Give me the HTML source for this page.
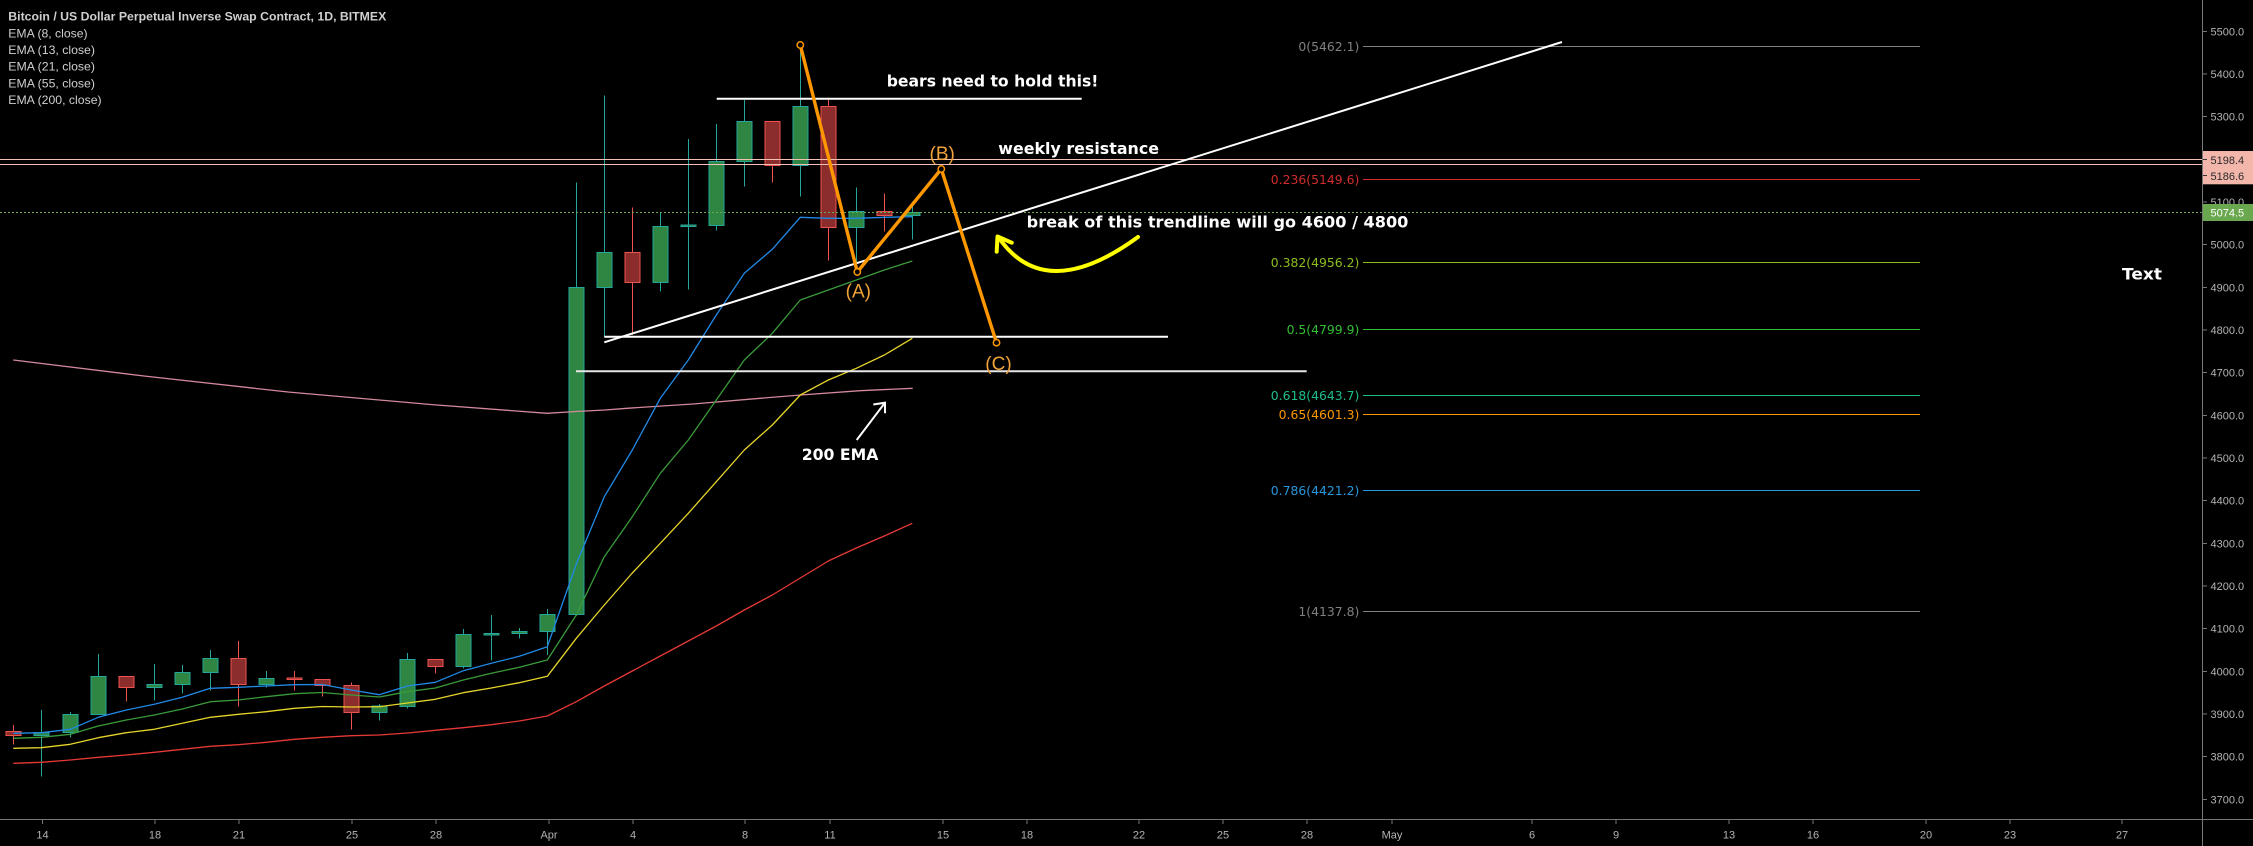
<!DOCTYPE html>
<html>
<head>
<meta charset="utf-8">
<style>
html,body{margin:0;padding:0;background:#000;}
svg{display:block;}
.ax{font-family:"Liberation Sans",sans-serif;font-size:11px;fill:#b4b4b4;}
.fib{font-family:"DejaVu Sans",sans-serif;font-size:12.4px;}
.ann{font-family:"DejaVu Sans",sans-serif;font-weight:bold;font-size:15.8px;fill:#fff;}
.lbl{font-family:"Liberation Sans",sans-serif;font-size:19px;fill:#f2a33a;}
.leg{font-family:"Liberation Sans",sans-serif;font-size:11.6px;fill:#cfcfcf;}
.gw{stroke:#26a69a;stroke-width:1;}
.rw{stroke:#ef5350;stroke-width:1;}
.gb{fill:#2f8542;stroke:#26a69a;stroke-width:1;}
.rb{fill:#8b2d2d;stroke:#ef5350;stroke-width:1;}
</style>
</head>
<body>
<svg width="2253" height="846" viewBox="0 0 2253 846" xmlns="http://www.w3.org/2000/svg">
<rect x="0" y="0" width="2253" height="846" fill="#000"/>

<!-- legend -->
<text class="leg" x="8.3" y="20.7" font-weight="bold" fill="#d8d8d8" textLength="378" lengthAdjust="spacingAndGlyphs">Bitcoin / US Dollar Perpetual Inverse Swap Contract, 1D, BITMEX</text>
<text class="leg" x="8.3" y="37.3" textLength="79.3" lengthAdjust="spacingAndGlyphs">EMA (8, close)</text>
<text class="leg" x="8.3" y="54" textLength="86.7" lengthAdjust="spacingAndGlyphs">EMA (13, close)</text>
<text class="leg" x="8.3" y="70.7" textLength="86.7" lengthAdjust="spacingAndGlyphs">EMA (21, close)</text>
<text class="leg" x="8.3" y="87.3" textLength="86.7" lengthAdjust="spacingAndGlyphs">EMA (55, close)</text>
<text class="leg" x="8.3" y="104" textLength="93.3" lengthAdjust="spacingAndGlyphs">EMA (200, close)</text>

<!-- fib levels -->
<g stroke-width="1">
<line x1="1363" y1="46.5" x2="1920" y2="46.5" stroke="#808080"/>
<line x1="1363" y1="179.5" x2="1920" y2="179.5" stroke="#d22c2c"/>
<line x1="1363" y1="262.5" x2="1920" y2="262.5" stroke="#8cbe1e"/>
<line x1="1363" y1="329.5" x2="1920" y2="329.5" stroke="#34be34"/>
<line x1="1363" y1="395.5" x2="1920" y2="395.5" stroke="#1ebe8c"/>
<line x1="1363" y1="414.5" x2="1920" y2="414.5" stroke="#ff9800"/>
<line x1="1363" y1="490.5" x2="1920" y2="490.5" stroke="#2896dc"/>
<line x1="1363" y1="611.5" x2="1920" y2="611.5" stroke="#808080"/>
</g>
<g class="fib" text-anchor="end">
<text x="1359.3" y="51" fill="#808080">0(5462.1)</text>
<text x="1359.3" y="184" fill="#d22c2c">0.236(5149.6)</text>
<text x="1359.3" y="267" fill="#8cbe1e">0.382(4956.2)</text>
<text x="1359.3" y="334" fill="#34be34">0.5(4799.9)</text>
<text x="1359.3" y="400" fill="#1ebe8c">0.618(4643.7)</text>
<text x="1359.3" y="419" fill="#ff9800">0.65(4601.3)</text>
<text x="1359.3" y="495" fill="#2896dc">0.786(4421.2)</text>
<text x="1359.3" y="616" fill="#808080">1(4137.8)</text>
</g>

<!-- candles -->
<g shape-rendering="crispEdges">
<line class="rw" x1="13.5" y1="725" x2="13.5" y2="744.7"/><rect class="rb" x="6" y="731.3" width="15" height="4"/>
<line class="gw" x1="41.5" y1="710" x2="41.5" y2="776.7"/><rect class="gb" x="34" y="732.3" width="15" height="3.4"/>
<line class="gw" x1="70.5" y1="712" x2="70.5" y2="737.7"/><rect class="gb" x="63" y="714.3" width="15" height="18"/>
<line class="gw" x1="98.5" y1="654" x2="98.5" y2="714.3"/><rect class="gb" x="91" y="676.3" width="15" height="38"/>
<line class="rw" x1="126.5" y1="676.3" x2="126.5" y2="701.7"/><rect class="rb" x="119" y="676.3" width="15" height="11"/>
<line class="gw" x1="154.5" y1="664" x2="154.5" y2="700.7"/><rect class="gb" x="147" y="684.3" width="15" height="3"/>
<line class="gw" x1="182.5" y1="665" x2="182.5" y2="693.7"/><rect class="gb" x="175" y="672.3" width="15" height="12"/>
<line class="gw" x1="210.5" y1="650" x2="210.5" y2="690.7"/><rect class="gb" x="203" y="658.3" width="15" height="14"/>
<line class="rw" x1="238.5" y1="641" x2="238.5" y2="706.7"/><rect class="rb" x="231" y="658.3" width="15" height="26"/>
<line class="gw" x1="266.5" y1="671" x2="266.5" y2="687.7"/><rect class="gb" x="259" y="678.3" width="15" height="6"/>
<line class="rw" x1="294.5" y1="671" x2="294.5" y2="690.7"/><rect class="rb" x="287" y="678" width="15" height="1.5"/>
<line class="rw" x1="322.5" y1="679.3" x2="322.5" y2="696.7"/><rect class="rb" x="315" y="679.3" width="15" height="6"/>
<line class="rw" x1="351.5" y1="682.3" x2="351.5" y2="729.7"/><rect class="rb" x="344" y="685.3" width="15" height="27"/>
<line class="gw" x1="379.5" y1="704" x2="379.5" y2="720.7"/><rect class="gb" x="372" y="706" width="15" height="6.3"/>
<line class="gw" x1="407.5" y1="653" x2="407.5" y2="708.7"/><rect class="gb" x="400" y="659.3" width="15" height="47"/>
<line class="rw" x1="435.5" y1="659.3" x2="435.5" y2="673.7"/><rect class="rb" x="428" y="659.3" width="15" height="7"/>
<line class="gw" x1="463.5" y1="629" x2="463.5" y2="668.7"/><rect class="gb" x="456" y="634.3" width="15" height="32"/>
<line class="gw" x1="491.5" y1="615" x2="491.5" y2="660.7"/><rect class="gb" x="484" y="633.3" width="15" height="1.5"/>
<line class="gw" x1="519.5" y1="628" x2="519.5" y2="638.7"/><rect class="gb" x="512" y="631.3" width="15" height="2"/>
<line class="gw" x1="547.5" y1="609" x2="547.5" y2="655"/><rect class="gb" x="540" y="614.3" width="15" height="17"/>
<line class="gw" x1="576.5" y1="182.3" x2="576.5" y2="616"/><rect class="gb" x="569" y="287.3" width="15" height="327"/>
<line class="gw" x1="604.5" y1="95.3" x2="604.5" y2="337"/><rect class="gb" x="597" y="252.3" width="15" height="35"/>
<line class="rw" x1="632.5" y1="207.3" x2="632.5" y2="335"/><rect class="rb" x="625" y="252.3" width="15" height="30"/>
<line class="gw" x1="660.5" y1="212.3" x2="660.5" y2="291.7"/><rect class="gb" x="653" y="226.3" width="15" height="56"/>
<line class="gw" x1="688.5" y1="139" x2="688.5" y2="289.3"/><rect class="gb" x="681" y="225" width="15" height="1.7"/>
<line class="gw" x1="716.5" y1="124" x2="716.5" y2="230.7"/><rect class="gb" x="709" y="161.3" width="15" height="64"/>
<line class="gw" x1="744.5" y1="100" x2="744.5" y2="186.7"/><rect class="gb" x="737" y="121.3" width="15" height="40"/>
<line class="rw" x1="772.5" y1="121.3" x2="772.5" y2="182.7"/><rect class="rb" x="765" y="121.3" width="15" height="44"/>
<line class="gw" x1="800.5" y1="45" x2="800.5" y2="196.7"/><rect class="gb" x="793" y="106.3" width="15" height="59"/>
<line class="rw" x1="828.5" y1="97.3" x2="828.5" y2="260.7"/><rect class="rb" x="821" y="106.3" width="15" height="121"/>
<line class="gw" x1="856.5" y1="187.3" x2="856.5" y2="273.3"/><rect class="gb" x="849" y="211.3" width="15" height="16"/>
<line class="rw" x1="884.5" y1="193.3" x2="884.5" y2="231.7"/><rect class="rb" x="877" y="211.3" width="15" height="4"/>
<line class="gw" x1="912.5" y1="201.7" x2="912.5" y2="239.3"/><rect class="gb" x="905" y="212.3" width="15" height="3"/>
</g>

<!-- EMAs -->
<g fill="none" stroke-width="1.3" stroke-linejoin="round">
<polyline stroke="#d4889c" points="13.3,360 144,376 288,392 432,404.6 547,413.3 576,411.5 605,410 627,408.3 693,404 760,398.3 800.7,395 860,390.7 912.7,388.3"/>
<polyline stroke="#e53935" points="13.3,763.3 41.3,762.3 70.3,760 98.3,757.3 126.3,755 154.3,752.3 182.3,749.3 210.3,746.3 238.3,744.7 266.3,742.3 294.3,739.3 322.3,737.3 351.3,735.7 379.3,735 407.3,733 435.3,730.3 463.3,727.7 491.3,724.7 519.3,721 547.3,716 576.3,701.7 604.3,686 632.3,671 660.3,656 688.3,641 716.3,626 744.3,610 772.3,595 800.3,578 828.3,561 856.3,548 884.3,536 912.3,523.3"/>
<polyline stroke="#e6d42a" points="13.3,748.3 41.3,747.7 70.3,744.3 98.3,737.7 126.3,732.7 154.3,729.3 182.3,723.3 210.3,717.3 238.3,714.3 266.3,711.7 294.3,708.3 322.3,706.5 351.3,707 379.3,706.7 407.3,703 435.3,699.3 463.3,692.7 491.3,688 519.3,682.7 547.3,676.3 576.3,638.3 604.3,605 632.3,573 660.3,543.3 688.3,513.3 716.3,481.7 744.3,450 772.3,425 800.3,395 828.3,380 856.3,368.3 884.3,355 912.3,338.3"/>
<polyline stroke="#3a9a3a" points="13.3,738.3 41.3,737.3 70.3,734.3 98.3,726 126.3,720 154.3,715 182.3,709 210.3,701.7 238.3,700 266.3,696.7 294.3,693.7 322.3,692.5 351.3,695 379.3,697 407.3,691.7 435.3,688 463.3,680 491.3,673.3 519.3,667.3 547.3,660 576.3,615 604.3,556.7 632.3,516.7 660.3,473.3 688.3,440 716.3,400 744.3,360 772.3,333.3 800.3,300 828.3,290 856.3,280 884.3,270 912.3,261"/>
<polyline stroke="#2189e6" points="13.3,733.3 41.3,732.7 70.3,729.3 98.3,717.3 126.3,710 154.3,704.3 182.3,697.3 210.3,688.3 238.3,687.3 266.3,686 294.3,684.7 322.3,684.5 351.3,690 379.3,694.7 407.3,686 435.3,682.3 463.3,670.7 491.3,663.3 519.3,656.3 547.3,646.7 576.3,564 604.3,496.7 632.3,450 660.3,398.3 688.3,360 716.3,315 744.3,273.3 772.3,249.3 800.3,217.3 828.3,218.3 856.3,218.3 884.3,217.3 912.3,216.7"/>
</g>

<!-- horizontal price lines -->
<line x1="0" y1="159.5" x2="2202" y2="159.5" stroke="#f4c0b5" stroke-width="1"/>
<line x1="0" y1="164.5" x2="2202" y2="164.5" stroke="#f4c0b5" stroke-width="1"/>
<line x1="0" y1="212.5" x2="2202" y2="212.5" stroke="#6aa84f" stroke-width="1" stroke-dasharray="2,2"/>

<!-- white drawings -->
<g stroke="#fff" stroke-width="2" fill="none">
<line x1="716.7" y1="98.7" x2="1081.7" y2="98.7"/>
<line x1="604.3" y1="336.7" x2="1168" y2="336.7"/>
<line x1="576" y1="371.3" x2="1306.7" y2="371.3" stroke="#e6e6e6"/>
<line x1="604.3" y1="342.3" x2="1562" y2="42"/>
<line x1="856.7" y1="440" x2="885" y2="402.7"/>
<polyline points="873.3,404.5 885,402.7 885,413.3"/>
</g>

<!-- orange ABC -->
<polyline points="800.3,45 857.3,272 941.3,169 996.5,342.7" fill="none" stroke="#ff9800" stroke-width="3.4" stroke-linejoin="round"/>
<g fill="#000" stroke="#ff9800" stroke-width="1.5">
<circle cx="800.3" cy="45" r="3.2"/>
<circle cx="857.3" cy="272" r="3.2"/>
<circle cx="941.3" cy="169" r="3.2"/>
<circle cx="996.5" cy="342.7" r="3.2"/>
</g>
<g class="lbl" text-anchor="middle">
<text x="858.3" y="297.7">(A)</text>
<text x="942.2" y="160">(B)</text>
<text x="998.5" y="370">(C)</text>
</g>

<!-- yellow curved arrow -->
<g fill="none" stroke="#ffff00" stroke-width="4" stroke-linecap="round" stroke-linejoin="round">
<path d="M1138,237 Q1045.5,304.5 999,238"/>
<polyline points="996.7,251.7 997.5,236.5 1011.7,242.7"/>
</g>

<!-- annotations -->
<text class="ann" x="886.7" y="86.7" textLength="211.7" lengthAdjust="spacingAndGlyphs">bears need to hold this!</text>
<text class="ann" x="998.3" y="154" textLength="160.7" lengthAdjust="spacingAndGlyphs">weekly resistance</text>
<text class="ann" x="1026.7" y="227.3" textLength="381.7" lengthAdjust="spacingAndGlyphs">break of this trendline will go 4600 / 4800</text>
<text class="ann" x="801.7" y="460" textLength="76.7" lengthAdjust="spacingAndGlyphs">200 EMA</text>
<text class="ann" x="2122" y="279.5" textLength="40" lengthAdjust="spacingAndGlyphs">Text</text>

<!-- axes -->
<rect x="2203" y="0" width="50" height="819" fill="#000"/>
<line x1="2202.5" y1="0" x2="2202.5" y2="846" stroke="#787878" stroke-width="1"/>
<line x1="0" y1="819.5" x2="2253" y2="819.5" stroke="#787878" stroke-width="1"/>

<g stroke="#787878" stroke-width="1">
<line x1="2202" y1="31.5" x2="2207" y2="31.5"/>
<line x1="2202" y1="74" x2="2207" y2="74"/>
<line x1="2202" y1="116.5" x2="2207" y2="116.5"/>
<line x1="2202" y1="202" x2="2207" y2="202"/>
<line x1="2202" y1="244.5" x2="2207" y2="244.5"/>
<line x1="2202" y1="287.5" x2="2207" y2="287.5"/>
<line x1="2202" y1="330" x2="2207" y2="330"/>
<line x1="2202" y1="372.5" x2="2207" y2="372.5"/>
<line x1="2202" y1="415.5" x2="2207" y2="415.5"/>
<line x1="2202" y1="458" x2="2207" y2="458"/>
<line x1="2202" y1="500.5" x2="2207" y2="500.5"/>
<line x1="2202" y1="543.5" x2="2207" y2="543.5"/>
<line x1="2202" y1="586" x2="2207" y2="586"/>
<line x1="2202" y1="628.5" x2="2207" y2="628.5"/>
<line x1="2202" y1="671.5" x2="2207" y2="671.5"/>
<line x1="2202" y1="714" x2="2207" y2="714"/>
<line x1="2202" y1="756.5" x2="2207" y2="756.5"/>
<line x1="2202" y1="799.5" x2="2207" y2="799.5"/>
</g>
<g class="ax">
<text x="2210.5" y="35.5">5500.0</text>
<text x="2210.5" y="78">5400.0</text>
<text x="2210.5" y="120.5">5300.0</text>
<text x="2210.5" y="206">5100.0</text>
<text x="2210.5" y="248.5">5000.0</text>
<text x="2210.5" y="291.5">4900.0</text>
<text x="2210.5" y="334">4800.0</text>
<text x="2210.5" y="376.5">4700.0</text>
<text x="2210.5" y="419.5">4600.0</text>
<text x="2210.5" y="462">4500.0</text>
<text x="2210.5" y="504.5">4400.0</text>
<text x="2210.5" y="547.5">4300.0</text>
<text x="2210.5" y="590">4200.0</text>
<text x="2210.5" y="632.5">4100.0</text>
<text x="2210.5" y="675.5">4000.0</text>
<text x="2210.5" y="718">3900.0</text>
<text x="2210.5" y="760.5">3800.0</text>
<text x="2210.5" y="803.5">3700.0</text>
</g>

<!-- price labels -->
<rect x="2203" y="151" width="50" height="33.3" fill="#f2b6ab"/>
<line x1="2203" y1="159.5" x2="2207" y2="159.5" stroke="#333" stroke-width="1"/>
<line x1="2203" y1="175.5" x2="2207" y2="175.5" stroke="#333" stroke-width="1"/>
<text class="ax" x="2210.5" y="164" fill="#2a2a2a" style="fill:#2a2a2a">5198.4</text>
<text class="ax" x="2210.5" y="180" style="fill:#2a2a2a">5186.6</text>
<rect x="2203" y="204" width="50" height="17" fill="#6aa84f"/>
<text class="ax" x="2210.5" y="216.5" style="fill:#ffffff">5074.5</text>

<!-- date ticks -->
<g stroke="#787878" stroke-width="1">
<line x1="42.5" y1="820" x2="42.5" y2="824"/>
<line x1="155" y1="820" x2="155" y2="824"/>
<line x1="239" y1="820" x2="239" y2="824"/>
<line x1="352" y1="820" x2="352" y2="824"/>
<line x1="436" y1="820" x2="436" y2="824"/>
<line x1="549" y1="820" x2="549" y2="824"/>
<line x1="633" y1="820" x2="633" y2="824"/>
<line x1="745" y1="820" x2="745" y2="824"/>
<line x1="830" y1="820" x2="830" y2="824"/>
<line x1="943" y1="820" x2="943" y2="824"/>
<line x1="1027" y1="820" x2="1027" y2="824"/>
<line x1="1139" y1="820" x2="1139" y2="824"/>
<line x1="1223" y1="820" x2="1223" y2="824"/>
<line x1="1307" y1="820" x2="1307" y2="824"/>
<line x1="1392" y1="820" x2="1392" y2="824"/>
<line x1="1532" y1="820" x2="1532" y2="824"/>
<line x1="1616" y1="820" x2="1616" y2="824"/>
<line x1="1729" y1="820" x2="1729" y2="824"/>
<line x1="1813" y1="820" x2="1813" y2="824"/>
<line x1="1926" y1="820" x2="1926" y2="824"/>
<line x1="2010" y1="820" x2="2010" y2="824"/>
<line x1="2122" y1="820" x2="2122" y2="824"/>
</g>
<g class="ax" text-anchor="middle">
<text x="42.5" y="838.5">14</text>
<text x="155" y="838.5">18</text>
<text x="239" y="838.5">21</text>
<text x="352" y="838.5">25</text>
<text x="436" y="838.5">28</text>
<text x="549" y="838.5">Apr</text>
<text x="633" y="838.5">4</text>
<text x="745" y="838.5">8</text>
<text x="830" y="838.5">11</text>
<text x="943" y="838.5">15</text>
<text x="1027" y="838.5">18</text>
<text x="1139" y="838.5">22</text>
<text x="1223" y="838.5">25</text>
<text x="1307" y="838.5">28</text>
<text x="1392" y="838.5">May</text>
<text x="1532" y="838.5">6</text>
<text x="1616" y="838.5">9</text>
<text x="1729" y="838.5">13</text>
<text x="1813" y="838.5">16</text>
<text x="1926" y="838.5">20</text>
<text x="2010" y="838.5">23</text>
<text x="2122" y="838.5">27</text>
</g>
</svg>
</body>
</html>
